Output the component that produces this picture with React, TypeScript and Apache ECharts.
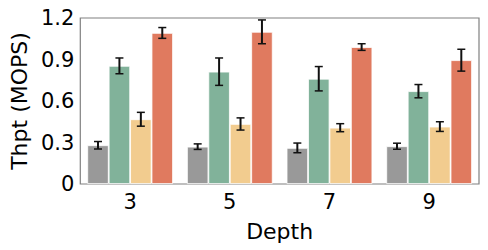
import React, { useEffect, useRef } from "react";
import * as echarts from "echarts";

const categories = ["3", "5", "7", "9"];
const seriesColors = ["#999999", "#81b29a", "#f2cc8f", "#e07a5f"];
const grayValues = [0.28, 0.27, 0.261, 0.273];
const grayErrors = [0.027, 0.02, 0.035, 0.022];
const greenValues = [0.854, 0.812, 0.761, 0.671];
const greenErrors = [0.057, 0.099, 0.088, 0.048];
const yellowValues = [0.468, 0.434, 0.407, 0.415];
const yellowErrors = [0.05, 0.044, 0.029, 0.035];
const redValues = [1.092, 1.1, 0.99, 0.895];
const redErrors = [0.039, 0.086, 0.024, 0.079];
const yTicks = [0, 0.3, 0.6, 0.9, 1.2];

const allValues = [grayValues, greenValues, yellowValues, redValues];
const allErrors = [grayErrors, greenErrors, yellowErrors, redErrors];
const CAT_GAP = 0.14;

export default function App() {
  const ref = useRef<HTMLDivElement>(null);
  useEffect(() => {
    if (!ref.current) return;
    const chart = echarts.init(ref.current, null, { renderer: "svg" });
    const font = "DejaVu Sans";
    const barSeries = allValues.map((vals, i) => ({
      type: "bar",
      data: vals,
      barGap: "0%",
      barCategoryGap: CAT_GAP * 100 + "%",
      itemStyle: { color: seriesColors[i], borderColor: "#ffffff", borderWidth: 0.8, opacity: 1 },
      z: 2,
    }));
    const errData: number[][] = [];
    allValues.forEach((vals, s) => {
      vals.forEach((v, c) => {
        errData.push([c, v, allErrors[s][c], s]);
      });
    });
    const errSeries = {
      type: "custom",
      data: errData,
      z: 5,
      renderItem: (params: any, api: any) => {
        const c = api.value(0);
        const v = api.value(1);
        const e = api.value(2);
        const s = api.value(3);
        const band = api.size([1, 0])[0];
        const bw = (band * (1 - CAT_GAP)) / 4;
        const center = api.coord([c, v]);
        const x = center[0] + (s - 1.5) * bw;
        const top = api.coord([c, v + e])[1];
        const bot = api.coord([c, v - e])[1];
        const cap = 4;
        const style = { stroke: "#111111", lineWidth: 2 };
        return {
          type: "group",
          children: [
            { type: "line", shape: { x1: x, y1: top, x2: x, y2: bot }, style },
            { type: "line", shape: { x1: x - cap, y1: top, x2: x + cap, y2: top }, style: { stroke: "#111111", lineWidth: 1.5 } },
            { type: "line", shape: { x1: x - cap, y1: bot, x2: x + cap, y2: bot }, style: { stroke: "#111111", lineWidth: 1.5 } },
          ],
        };
      },
    };
    chart.setOption({
      animation: false,
      grid: {
        left: 77,
        right: 9,
        top: 18,
        bottom: 66,
        show: true,
        borderColor: "#808080",
        borderWidth: 1.2,
        backgroundColor: "transparent",
      },
      xAxis: {
        type: "category",
        data: categories,
        name: "Depth",
        nameLocation: "middle",
        nameGap: 36,
        nameTextStyle: { fontFamily: font, fontSize: 22, color: "#000" },
        axisLine: { show: false },
        axisTick: { show: false },
        axisLabel: { fontFamily: font, fontSize: 21, color: "#000", margin: 7 },
        splitLine: { show: false },
      },
      yAxis: {
        type: "value",
        min: 0,
        max: 1.2,
        interval: 0.3,
        name: "Thpt (MOPS)",
        nameLocation: "middle",
        nameGap: 48,
        nameTextStyle: { fontFamily: font, fontSize: 22, color: "#000" },
        axisLine: { show: false },
        axisTick: { show: false },
        splitLine: { show: false },
        axisLabel: {
          fontFamily: font,
          fontSize: 21,
          color: "#000",
          margin: 6,
          formatter: (v: number) => {
            const t = yTicks.find((k) => Math.abs(k - v) < 1e-6);
            if (t === undefined) return "";
            return t === 0 ? "0" : t.toFixed(1);
          },
        },
      },
      series: [...barSeries, errSeries],
    });
    return () => chart.dispose();
  }, []);
  return <div ref={ref} style={{ width: 488, height: 250, position: "absolute", left: 0, top: 0 }} />;
}
